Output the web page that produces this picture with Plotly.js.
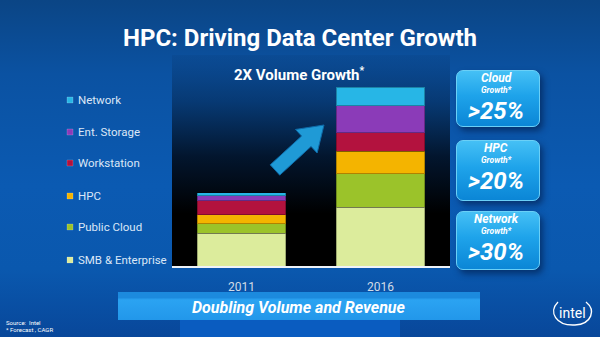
<!DOCTYPE html>
<html>
<head>
<meta charset="utf-8">
<script src="https://cdn.plot.ly/plotly-3.0.1.min.js"></script>
<style>
  html, body { margin: 0; padding: 0; width: 600px; height: 337px; overflow: hidden; }
  body { position: relative; background: linear-gradient(to bottom, #0b4585 0%, #0b52a2 22%, #0b5ab2 55%, #0a58ae 80%, #08479a 100%); }
  .deco { position: absolute; }
  #plotbg { left: 172px; top: 55px; width: 278px; height: 211px;
    background: linear-gradient(to bottom, rgba(0,8,25,0.05) 0%, rgba(0,8,22,0.35) 22%, rgba(0,3,10,0.78) 48%, #000 75%, #000 100%); }
  .gbox { left: 456px; width: 82px; border-radius: 7px;
    background: linear-gradient(to bottom, #45c0f5 0%, #1ea3ea 45%, #0b86d6 100%);
    border: 1px solid #6ad0f7; box-shadow: 3px 4px 6px rgba(0,20,60,0.55); }
  #banner { left: 118px; top: 292px; width: 362px; height: 28px;
    background: linear-gradient(to bottom, #1c8ade 0%, #1c8ade 20%, #2ba3f2 28%, #2297ea 100%); }
  #band { left: 180px; top: 320px; width: 220px; height: 17px; background: #0a5cc0; }
  #chart { position: absolute; left: 0; top: 0; width: 600px; height: 337px; }
</style>
</head>
<body>
<div id="plotbg" class="deco"></div>
<div class="deco gbox" style="top:70px;height:55px"></div>
<div class="deco gbox" style="top:140px;height:59px"></div>
<div class="deco gbox" style="top:211px;height:57px"></div>
<div id="band" class="deco"></div>
<div id="banner" class="deco"></div>
<div id="chart"></div>
<script>
// ---- data (relative volume index, 2011 total = 100) ----
const years = ['2011', '2016'];
const segments = ['SMB & Enterprise', 'Public Cloud', 'HPC', 'Workstation', 'Ent. Storage', 'Network'];
const smbEnterprise = [45, 80];
const publicCloud   = [13, 46];
const hpc           = [12, 31];
const workstation   = [19, 25];
const entStorage    = [7, 37];
const network       = [4, 25];
const growthSegments = ['Cloud', 'HPC', 'Network'];
const growthRates    = ['>25%', '>20%', '>30%'];

// ---- styles ----
const segColors = ['#dcec9c', '#9bc32a', '#f4b400', '#b3123e', '#8b3bb8', '#27b6e6'];
const seriesValues = [smbEnterprise, publicCloud, hpc, workstation, entStorage, network];

const W = 600, H = 337;
const ML = 172, MR = 150, MT = 80, MB = 71;
const PW = W - ML - MR, PH = H - MT - MB;
const X = px => (px - ML) / PW;
const Y = py => (H - MB - py) / PH;

const traces = segments.map((name, i) => ({
  type: 'bar',
  name: name,
  x: years,
  y: seriesValues[i],
  marker: { color: segColors[i], line: { color: 'rgba(0,0,0,0.28)', width: 1 } },
  showlegend: false,
  hoverinfo: 'skip'
}));

const font = 'Roboto, Liberation Sans, sans-serif';
const font2 = 'Roboto, Liberation Sans, sans-serif';

const annotations = [];
const shapes = [];

// subtitle
annotations.push({ xref: 'paper', yref: 'paper', x: X(299), y: Y(74), xanchor: 'center', yanchor: 'middle',
  text: '<b>2X Volume Growth<sup>*</sup></b>', showarrow: false, font: { family: font, size: 15, color: '#ffffff' } });

// legend (top-to-bottom: Network ... SMB & Enterprise)
const legendY = [260, 227, 196, 163, 132, 100];
segments.forEach((name, i) => {
  const cy = legendY[i];
  shapes.push({ type: 'rect', xref: 'paper', yref: 'paper', x0: X(67), x1: X(73), y0: Y(cy + 3), y1: Y(cy - 3),
    fillcolor: segColors[i], line: { color: 'rgba(255,255,255,0.35)', width: 0.5 } });
  annotations.push({ xref: 'paper', yref: 'paper', x: X(76), y: Y(cy), xanchor: 'left', yanchor: 'middle',
    text: name.replace('&', '&amp;'), showarrow: false, font: { family: font2, size: 11.5, color: '#dbe7f7' } });
});

// growth boxes text
const boxTops = [70, 140, 211];
growthSegments.forEach((g, i) => {
  const t = boxTops[i];
  annotations.push({ xref: 'paper', yref: 'paper', x: X(496), y: Y(t + 8), xanchor: 'center', yanchor: 'middle',
    text: '<b><i>' + g + '</i></b>', showarrow: false, font: { family: font, size: 12, color: '#ffffff' } });
  annotations.push({ xref: 'paper', yref: 'paper', x: X(496), y: Y(t + 20), xanchor: 'center', yanchor: 'middle',
    text: '<b><i>Growth*</i></b>', showarrow: false, font: { family: font, size: 8.5, color: '#ffffff' } });
  annotations.push({ xref: 'paper', yref: 'paper', x: X(496), y: Y(t + 41), xanchor: 'center', yanchor: 'middle',
    text: '<b><i>' + growthRates[i].replace('>', '&gt;') + '</i></b>', showarrow: false,
    font: { family: font, size: 24, color: '#ffffff' } });
});

// banner text
annotations.push({ xref: 'paper', yref: 'paper', x: X(299), y: Y(307), xanchor: 'center', yanchor: 'middle',
  text: '<b><i>Doubling Volume and Revenue</i></b>', showarrow: false, font: { family: font, size: 16, color: '#ffffff' } });

// footnote
annotations.push({ xref: 'paper', yref: 'paper', x: X(4), y: Y(322), xanchor: 'left', yanchor: 'middle',
  text: 'Source:  Intel', showarrow: false, font: { family: font2, size: 6, color: '#ffffff' } });
annotations.push({ xref: 'paper', yref: 'paper', x: X(4), y: Y(329), xanchor: 'left', yanchor: 'middle',
  text: '* Forecast , CAGR', showarrow: false, font: { family: font2, size: 6, color: '#ffffff' } });

// intel logo
annotations.push({ xref: 'paper', yref: 'paper', x: X(572), y: Y(313), xanchor: 'center', yanchor: 'middle',
  text: 'intel', showarrow: false, font: { family: font2, size: 14, color: '#ffffff' } });
shapes.push({ type: 'path', xref: 'paper', yref: 'paper', line: { color: '#ffffff', width: 1.4 },
  path: 'M' + X(558) + ',' + Y(302) + ' C' + X(548) + ',' + Y(312) + ' ' + X(556) + ',' + Y(326) + ' ' + X(575) + ',' + Y(325) +
        ' C' + X(592) + ',' + Y(324) + ' ' + X(596) + ',' + Y(310) + ' ' + X(586) + ',' + Y(302) });

// arrow (decoration)
(function () {
  const T = [275, 170], P = [324, 125];
  const vx = P[0] - T[0], vy = P[1] - T[1], L = Math.hypot(vx, vy);
  const u = [vx / L, vy / L], n = [-u[1], u[0]];
  const hw = 7, hh = 16, hl = 24;
  const Hc = [P[0] - u[0] * hl, P[1] - u[1] * hl];
  const pts = [
    [T[0] - n[0] * hw, T[1] - n[1] * hw],
    [Hc[0] - n[0] * hw, Hc[1] - n[1] * hw],
    [Hc[0] - n[0] * hh, Hc[1] - n[1] * hh],
    P,
    [Hc[0] + n[0] * hh, Hc[1] + n[1] * hh],
    [Hc[0] + n[0] * hw, Hc[1] + n[1] * hw],
    [T[0] + n[0] * hw, T[1] + n[1] * hw]
  ];
  const path = 'M' + pts.map(p => X(p[0]) + ',' + Y(p[1])).join(' L') + ' Z';
  shapes.push({ type: 'path', xref: 'paper', yref: 'paper', path: path, fillcolor: '#1f9ad6', line: { color: '#0e6aa8', width: 1 }, layer: 'above' });
})();

const layout = {
  width: W, height: H,
  margin: { l: ML, r: MR, t: MT, b: MB, pad: 0 },
  paper_bgcolor: 'rgba(0,0,0,0)',
  plot_bgcolor: 'rgba(0,0,0,0)',
  barmode: 'stack',
  bargap: 0.36,
  title: { text: '<b>HPC: Driving Data Center Growth</b>', x: X(300), xref: 'paper', xanchor: 'center',
    y: 1 - 38 / H, yref: 'container', yanchor: 'middle',
    font: { family: font, size: 24, color: '#ffffff' } },
  xaxis: { type: 'category', range: [-0.5, 1.5], showline: true, linecolor: '#eef3f8', linewidth: 2,
    showgrid: false, zeroline: false, ticks: '', tickfont: { family: font2, size: 12, color: '#d2dbe6' },
    ticklabelstandoff: 9, fixedrange: true },
  yaxis: { visible: false, range: [0, 254], fixedrange: true },
  showlegend: false,
  annotations: annotations,
  shapes: shapes
};

Plotly.newPlot('chart', traces, layout, { staticPlot: true, displayModeBar: false });
</script>
</body>
</html>
